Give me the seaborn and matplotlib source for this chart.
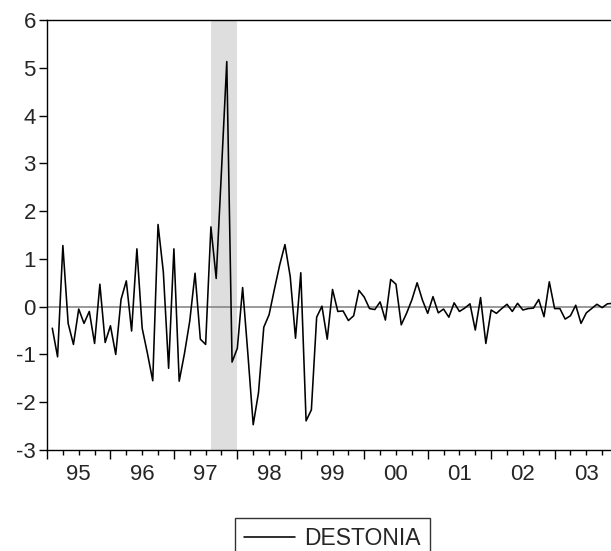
import numpy as np
import pandas as pd
import matplotlib
matplotlib.use("Agg")
import matplotlib.pyplot as plt
import seaborn as sns
from matplotlib.ticker import FixedLocator, FixedFormatter

# ---- data (monthly, 1995M02 .. 2003M12) ----
start_year = 1995
start_month = 2
destonia = [
    -0.45, -1.05, 1.28, -0.35, -0.79, -0.05, -0.35, -0.10, -0.77, 0.47, -0.75,   # 1995 Feb-Dec
    -0.40, -1.00, 0.15, 0.54, -0.51, 1.21, -0.45, -0.98, -1.55, 1.72, 0.73, -1.29,  # 1996
    1.21, -1.56, -0.98, -0.30, 0.70, -0.68, -0.79, 1.67, 0.59, 2.85, 5.13, -1.16,   # 1997
    -0.87, 0.40, -1.00, -2.47, -1.80, -0.43, -0.17, 0.36, 0.87, 1.30, 0.63, -0.66,  # 1998
    0.71, -2.39, -2.16, -0.22, 0.01, -0.68, 0.36, -0.10, -0.09, -0.29, -0.19, 0.34, # 1999
    0.20, -0.04, -0.06, 0.10, -0.28, 0.57, 0.47, -0.38, -0.14, 0.14, 0.50, 0.14,    # 2000
    -0.14, 0.21, -0.13, -0.05, -0.22, 0.08, -0.10, -0.03, 0.06, -0.49, 0.19, -0.77, # 2001
    -0.07, -0.14, -0.04, 0.05, -0.10, 0.07, -0.07, -0.04, -0.03, 0.15, -0.21, 0.52, # 2002
    -0.04, -0.04, -0.26, -0.19, 0.03, -0.35, -0.13, -0.04, 0.05, -0.02, 0.06, 0.07, # 2003
]
shade_start = (1997, 8)   # first shaded month
shade_end = (1997, 12)    # last shaded month (inclusive)
year_labels = ["95", "96", "97", "98", "99", "00", "01", "02", "03"]
y_ticks = [-3, -2, -1, 0, 1, 2, 3, 4, 5, 6]
series_name = "DESTONIA"

n = len(destonia)
t = start_year + (start_month - 1) / 12 + np.arange(n) / 12.0
df = pd.DataFrame({"t": t, series_name: destonia})

sns.set_style("ticks")
plt.rcParams["font.family"] = ["Liberation Sans", "DejaVu Sans"]
plt.rcParams["axes.unicode_minus"] = False

fig = plt.figure(figsize=(6.11, 5.51), dpi=100)
ax = fig.add_axes([47 / 611, 1 - 450 / 551, 1 - 47 / 611 + 0.002, (450 - 20) / 551])

def ym(y, m):
    return y + (m - 1) / 12.0

ax.axvspan(ym(*shade_start), ym(*shade_end) + 1 / 12.0, color="#dedede", lw=0, zorder=0)
ax.axhline(0, color="#7f7f7f", lw=1.1, zorder=1)
sns.lineplot(data=df, x="t", y=series_name, ax=ax, color="black", lw=1.15,
             label=series_name, legend=False, zorder=2)

ax.set_xlim(1995.0, 1995 + 106.9 / 12)
ax.set_ylim(-3, 6)
ax.set_xlabel("")
ax.set_ylabel("")

years = np.arange(1995, 1995 + len(year_labels))
ax.xaxis.set_major_locator(FixedLocator(years))
ax.xaxis.set_major_formatter(FixedFormatter([""] * len(years)))
quarters = []
qlabels = []
for y, lab in zip(years, year_labels):
    for q in (0.25, 0.5, 0.75):
        quarters.append(y + q)
        qlabels.append(lab if q == 0.5 else "")
ax.xaxis.set_minor_locator(FixedLocator(quarters))
ax.xaxis.set_minor_formatter(FixedFormatter(qlabels))

ax.set_yticks(y_ticks)
ax.set_yticklabels([str(v) for v in y_ticks])

ax.tick_params(axis="x", which="major", length=6.3, width=1.0, direction="out", color="black")
ax.tick_params(axis="x", which="minor", length=3.4, width=1.0, direction="out", color="black",
               labelsize=16, pad=7)
ax.tick_params(axis="y", which="major", length=6, width=1.0, direction="out", color="black",
               labelsize=16, pad=2)

for s in ["left", "bottom", "top"]:
    ax.spines[s].set_visible(True)
    ax.spines[s].set_linewidth(1.0)
    ax.spines[s].set_color("black")
ax.spines["right"].set_visible(False)

handles, labels = ax.get_legend_handles_labels()
leg = fig.legend(handles, labels, loc="upper center",
                 bbox_to_anchor=(332.5 / 611, 1 - 518 / 551),
                 fontsize=16.5, frameon=True, fancybox=False, shadow=False,
                 handlelength=2.2, handletextpad=0.4, borderpad=0.4,
                 borderaxespad=0)
leg.get_frame().set_edgecolor("black")
leg.get_frame().set_linewidth(1.0)

fig.savefig("out.png", dpi=100)
